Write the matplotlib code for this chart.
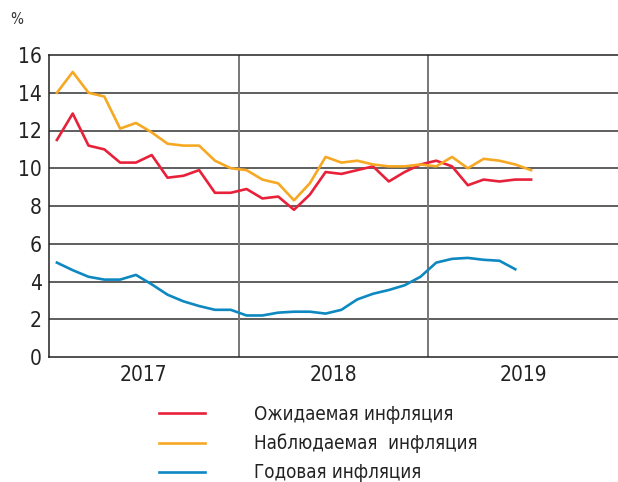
import numpy as np
import matplotlib.pyplot as plt
from matplotlib import font_manager

# narrow sans if available, else condensed DejaVu
fonts = font_manager.fontManager.ttflist
names = [f.name for f in fonts]
if 'Liberation Sans Narrow' in names:
    plt.rcParams['font.family'] = ['Liberation Sans Narrow', 'DejaVu Sans']
else:
    plt.rcParams['font.family'] = ['DejaVu Sans']
    if any(f.name == 'DejaVu Sans' and 'ondensed' in str(f.stretch) or f.fname.endswith('Condensed.ttf') for f in fonts):
        plt.rcParams['font.stretch'] = 'condensed'

# monthly data, Jan 2017 .. Jul 2019
expected = [11.5, 12.9, 11.2, 11.0, 10.3, 10.3, 10.7, 9.5, 9.6, 9.9, 8.7, 8.7,
            8.9, 8.4, 8.5, 7.8, 8.6, 9.8, 9.7, 9.9, 10.1, 9.3, 9.8, 10.2,
            10.4, 10.1, 9.1, 9.4, 9.3, 9.4, 9.4]
observed = [14.0, 15.1, 14.0, 13.8, 12.1, 12.4, 11.9, 11.3, 11.2, 11.2, 10.4, 10.0,
            9.9, 9.4, 9.2, 8.3, 9.2, 10.6, 10.3, 10.4, 10.2, 10.1, 10.1, 10.2,
            10.1, 10.6, 10.0, 10.5, 10.4, 10.2, 9.9]
annual = [5.0, 4.6, 4.25, 4.1, 4.1, 4.35, 3.85, 3.3, 2.95, 2.7, 2.5, 2.5,
          2.2, 2.2, 2.35, 2.4, 2.4, 2.3, 2.5, 3.05, 3.35, 3.55, 3.8, 4.25,
          5.0, 5.2, 5.25, 5.15, 5.1, 4.65]
years = ['2017', '2018', '2019']
labels = ['Ожидаемая инфляция', 'Наблюдаемая  инфляция', 'Годовая инфляция']
colors = ['#e8213b', '#f7a823', '#0d88c1']

W, H = 618, 482
fig = plt.figure(figsize=(W/100, H/100), dpi=100)
ax = fig.add_axes([49/W, (H-357)/H, (W-49)/W, (357-55)/H])

x_e = np.arange(len(expected)) + 0.5
x_a = np.arange(len(annual)) + 0.5

ax.set_xlim(0, 36)
ax.set_ylim(0, 16)
ax.set_yticks(range(0, 17, 2))
for y in range(2, 16, 2):
    ax.axhline(y, color='#333333', lw=1.1, zorder=1)
for xv in (12, 24):
    ax.axvline(xv, color='#777777', lw=1.4, zorder=1)

l1, = ax.plot(x_e, expected, color=colors[0], lw=1.9, zorder=3)
l2, = ax.plot(x_e, observed, color=colors[1], lw=1.9, zorder=3)
l3, = ax.plot(x_a, annual, color=colors[2], lw=1.9, zorder=3)

ax.set_xticks([6, 18, 30])
ax.set_xticklabels(years)
ax.tick_params(length=0, labelsize=15, colors='#222222')
ax.tick_params(axis='y', pad=5)
ax.tick_params(axis='x', pad=6)
ax.spines['right'].set_visible(False)
for s in ('left', 'bottom', 'top'):
    ax.spines[s].set_color('#222222')
    ax.spines[s].set_linewidth(1.1)

fig.text(10/W, 1 - 20/H, '%', fontsize=11, color='#333333', va='center')

fig.legend([l1, l2, l3], labels, loc='upper left',
           bbox_to_anchor=(142/W, 1 - 388/H), frameon=False,
           fontsize=13.5, handlelength=2.45, handletextpad=2.6,
           labelspacing=0.52, labelcolor='#222222')

fig.savefig('out.png', dpi=100)
